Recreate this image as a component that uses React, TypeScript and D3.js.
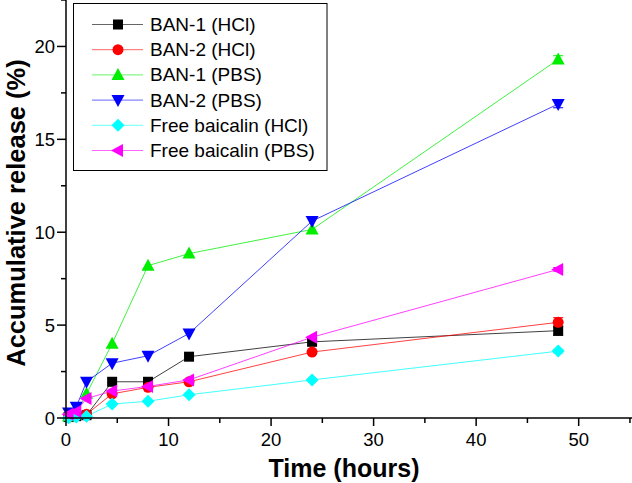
import React from "react";
import * as d3 from "d3";

const times = [0.25, 1, 2, 4.5, 8, 12, 24, 48];
const seriesNames = [
  "BAN-1 (HCl)",
  "BAN-2 (HCl)",
  "BAN-1 (PBS)",
  "BAN-2 (PBS)",
  "Free baicalin (HCl)",
  "Free baicalin (PBS)",
];
const ban1Hcl = [0.05, 0.1, 0.15, 1.95, 1.95, 3.3, 4.1, 4.7];
const ban2Hcl = [0.05, 0.15, 0.2, 1.3, 1.65, 1.95, 3.55, 5.15];
const ban1Pbs = [0.1, 0.3, 1.3, 4.0, 8.2, 8.85, 10.15, 19.3];
const ban2Pbs = [0.3, 0.6, 1.95, 2.95, 3.35, 4.55, 10.6, 16.9];
const freeHcl = [0.02, 0.05, 0.1, 0.75, 0.9, 1.25, 2.05, 3.6];
const freePbs = [0.2, 0.35, 1.05, 1.45, 1.7, 2.05, 4.35, 8.0];
const errLast = [0.25, 0.25, 0.2, 0.2, 0.1, 0.1];
const colors = ["#000000", "#ff0000", "#00ee00", "#0000ff", "#00ffff", "#ff00ff"];
const shapes = ["square", "circle", "triUp", "triDown", "diamond", "triLeft"];
const xTickVals = [0, 10, 20, 30, 40, 50];
const yTickVals = [0, 5, 10, 15, 20];

const allSeries = [ban1Hcl, ban2Hcl, ban1Pbs, ban2Pbs, freeHcl, freePbs];

function Marker({ shape, x, y, color }: { shape: string; x: number; y: number; color: string }) {
  const s = 6;
  if (shape === "square")
    return <rect x={x - 5} y={y - 5} width={10} height={10} fill={color} />;
  if (shape === "circle") return <circle cx={x} cy={y} r={5.5} fill={color} />;
  let pts = "";
  if (shape === "triUp") pts = `${x},${y - s - 1} ${x - s - 0.5},${y + s - 1} ${x + s + 0.5},${y + s - 1}`;
  if (shape === "triDown") pts = `${x},${y + s + 1} ${x - s - 0.5},${y - s + 1} ${x + s + 0.5},${y - s + 1}`;
  if (shape === "triLeft") pts = `${x - s - 1},${y} ${x + s - 1},${y - s - 0.5} ${x + s - 1},${y + s + 0.5}`;
  if (shape === "diamond") pts = `${x},${y - 6.5} ${x + 6.5},${y} ${x},${y + 6.5} ${x - 6.5},${y}`;
  return <polygon points={pts} fill={color} />;
}

export default function App() {
  const W = 632;
  const H = 483;
  const x = d3.scaleLinear().domain([0, 55.2]).range([66, 632]);
  const y = d3.scaleLinear().domain([0, 22.5]).range([418, 0]);
  const line = d3
    .line<number>()
    .x((_, i) => x(times[i]))
    .y((d) => y(d));
  const xMinor = d3.range(5, 56, 10);
  const yMinor = d3.range(2.5, 22.6, 5);
  const font = "Arial, 'Liberation Sans', Helvetica, sans-serif";
  const legendY0 = 24.5;
  const legendDy = 25.2;

  return (
    <svg
      width={W}
      height={H}
      style={{ position: "absolute", left: 0, top: 0, background: "#fff" }}
      fontFamily={font}
    >
      <rect x={0} y={0} width={W} height={H} fill="#fff" />
      {allSeries.map((s, k) => (
        <path key={"l" + k} d={line(s) || ""} fill="none" stroke={colors[k]} strokeWidth={1} strokeOpacity={0.75} />
      ))}
      {allSeries.map((s, k) => {
        const i = s.length - 1;
        const cx = x(times[i]);
        const y1 = y(s[i] + errLast[k]);
        const y2 = y(s[i] - errLast[k]);
        return (
          <g key={"e" + k} stroke={colors[k]} strokeWidth={1}>
            <line x1={cx} x2={cx} y1={y1} y2={y2} />
            <line x1={cx - 5} x2={cx + 5} y1={y1} y2={y1} />
            <line x1={cx - 5} x2={cx + 5} y1={y2} y2={y2} />
          </g>
        );
      })}
      {allSeries.map((s, k) => (
        <g key={"m" + k}>
          {s.map((v, i) => (
            <Marker key={i} shape={shapes[k]} x={x(times[i])} y={y(v)} color={colors[k]} />
          ))}
        </g>
      ))}
      <line x1={x(0)} x2={632} y1={y(0)} y2={y(0)} stroke="#000" strokeWidth={1.5} />
      <line x1={x(0)} x2={x(0)} y1={0} y2={y(0)} stroke="#000" strokeWidth={1.5} />
      {xTickVals.map((t) => (
        <g key={"xt" + t}>
          <line x1={x(t)} x2={x(t)} y1={y(0)} y2={y(0) + 8} stroke="#000" strokeWidth={1.5} />
          <text x={x(t)} y={446} fontSize={18.5} textAnchor="middle" fill="#000">
            {t}
          </text>
        </g>
      ))}
      {xMinor.map((t) => (
        <line key={"xm" + t} x1={x(t)} x2={x(t)} y1={y(0)} y2={y(0) + 5} stroke="#000" strokeWidth={1.5} />
      ))}
      {yTickVals.map((t) => (
        <g key={"yt" + t}>
          <line x1={x(0) - 9} x2={x(0)} y1={y(t)} y2={y(t)} stroke="#000" strokeWidth={1.5} />
          <text x={55} y={y(t) + 6.5} fontSize={18.5} textAnchor="end" fill="#000">
            {t}
          </text>
        </g>
      ))}
      {yMinor.map((t) => (
        <line key={"ym" + t} x1={x(0) - 5} x2={x(0)} y1={y(t)} y2={y(t)} stroke="#000" strokeWidth={1.5} />
      ))}
      <text x={344} y={477} fontSize={25} fontWeight="bold" textAnchor="middle" fill="#000">
        Time (hours)
      </text>
      <text
        transform={`translate(24.5,${213}) rotate(-90)`}
        fontSize={25.5}
        fontWeight="bold"
        textAnchor="middle"
        fill="#000"
      >
        Accumulative release (%)
      </text>
      <rect x={73.5} y={3.5} width={253.5} height={167} fill="#fff" stroke="#000" strokeWidth={1} />
      {seriesNames.map((n, k) => {
        const ly = legendY0 + k * legendDy;
        return (
          <g key={"lg" + k}>
            <line x1={92} x2={143} y1={ly} y2={ly} stroke={colors[k]} strokeWidth={1} strokeOpacity={0.6} />
            <Marker shape={shapes[k]} x={118} y={ly} color={colors[k]} />
            <text x={150} y={ly + 6.5} fontSize={19} fill="#000">
              {n}
            </text>
          </g>
        );
      })}
    </svg>
  );
}
